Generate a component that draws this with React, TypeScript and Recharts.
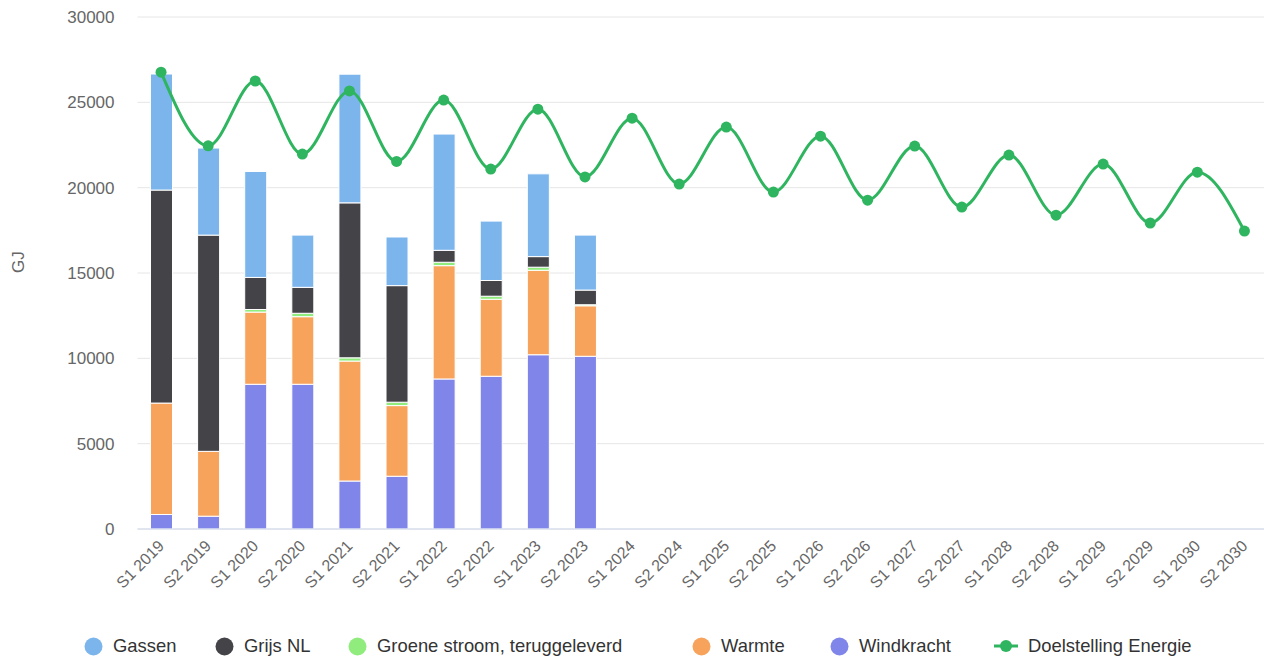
import React from 'react';
import { ComposedChart, Bar, Line, XAxis, YAxis, CartesianGrid } from 'recharts';

const categories = [
  'S1 2019', 'S2 2019', 'S1 2020', 'S2 2020', 'S1 2021', 'S2 2021',
  'S1 2022', 'S2 2022', 'S1 2023', 'S2 2023', 'S1 2024', 'S2 2024',
  'S1 2025', 'S2 2025', 'S1 2026', 'S2 2026', 'S1 2027', 'S2 2027',
  'S1 2028', 'S2 2028', 'S1 2029', 'S2 2029', 'S1 2030', 'S2 2030',
];

const windkracht = [850, 750, 8480, 8480, 2810, 3090, 8790, 8950, 10210, 10120];
const warmte = [6530, 3800, 4230, 3960, 7030, 4140, 6640, 4510, 4950, 2960];
const groeneStroom = [0, 0, 150, 200, 190, 200, 200, 180, 180, 60];
const grijsNL = [12480, 12670, 1880, 1520, 9080, 6830, 700, 920, 620, 860];
const gassen = [6800, 5100, 6210, 3060, 7540, 2850, 6810, 3480, 4850, 3220];
const doelstelling = [
  26770, 22450, 26250, 21970, 25670, 21540, 25130, 21090, 24600, 20630,
  24070, 20210, 23550, 19740, 23020, 19270, 22440, 18860, 21910, 18390,
  21380, 17930, 20910, 17460,
];
const yTicks = [0, 5000, 10000, 15000, 20000, 25000, 30000];

const colors = {
  gassen: '#7cb5ec',
  grijs: '#434348',
  groene: '#90ed7d',
  warmte: '#f7a35c',
  wind: '#8085e9',
  doel: '#2fb55f',
};

const data = categories.map((name, i) => ({
  name,
  windkracht: windkracht[i] ?? null,
  warmte: warmte[i] ?? null,
  groene: groeneStroom[i] ?? null,
  grijs: grijsNL[i] ?? null,
  gassen: gassen[i] ?? null,
  doel: doelstelling[i],
}));

const FONT = 'Arial, "Liberation Sans", Helvetica, sans-serif';

const XTick = (props: any) => {
  const { x, y, payload } = props;
  return (
    <g transform={`translate(${x + 4},${y + 10})`}>
      <text x={0} y={0} textAnchor="end" transform="rotate(-45)" fill="#666666" fontSize={16} fontFamily={FONT}>
        {payload.value}
      </text>
    </g>
  );
};

const legendItems = [
  { label: 'Gassen', color: colors.gassen, left: 84, type: 'circle' },
  { label: 'Grijs NL', color: colors.grijs, left: 215, type: 'circle' },
  { label: 'Groene stroom, teruggeleverd', color: colors.groene, left: 348, type: 'circle' },
  { label: 'Warmte', color: colors.warmte, left: 692, type: 'circle' },
  { label: 'Windkracht', color: colors.wind, left: 830, type: 'circle' },
  { label: 'Doelstelling Energie', color: colors.doel, left: 994, type: 'line' },
];

const LegendBox = () => (
  <div style={{ position: 'absolute', left: 0, top: 634, width: 1264, height: 24, fontFamily: FONT }}>
    {legendItems.map((it) => (
      <div key={it.label} style={{ position: 'absolute', left: it.left, top: 0, height: 24, display: 'flex', alignItems: 'center' }}>
        {it.type === 'circle' ? (
          <svg width={19} height={19} style={{ display: 'block' }}>
            <circle cx={9.5} cy={9.5} r={9} fill={it.color} />
          </svg>
        ) : (
          <svg width={26} height={14} style={{ display: 'block' }}>
            <line x1={0} y1={7} x2={24} y2={7} stroke={it.color} strokeWidth={3} />
            <circle cx={12} cy={7} r={6} fill={it.color} />
          </svg>
        )}
        <span style={{ marginLeft: it.type === 'circle' ? 10 : 8, fontSize: 18.4, color: '#333333', whiteSpace: 'nowrap' }}>{it.label}</span>
      </div>
    ))}
  </div>
);

export default function App() {
  return (
    <div style={{ position: 'absolute', left: 0, top: 0, width: 1264, height: 659, overflow: 'hidden', background: '#ffffff' }}>
      <ComposedChart
        width={1268}
        height={659}
        data={data}
        margin={{ top: 17, right: 0, bottom: 50, left: 0 }}
        barSize={22}
        style={{ fontFamily: FONT }}
      >
        <CartesianGrid vertical={false} stroke="#e6e6e6" />
        <XAxis
          dataKey="name"
          interval={0}
          tickLine={false}
          axisLine={{ stroke: '#ccd6eb' }}
          height={80}
          tick={<XTick />}
        />
        <YAxis
          width={137.5}
          domain={[0, 30000]}
          ticks={yTicks}
          tickSize={0}
          tickMargin={23}
          axisLine={false}
          tickLine={false}
          tick={{ fill: '#666666', fontSize: 17, fontFamily: FONT }}
          label={{ value: 'GJ', angle: -90, position: 'insideLeft', offset: 18, fill: '#666666', fontSize: 17, fontFamily: FONT }}
        />
        <Bar dataKey="windkracht" stackId="a" fill={colors.wind} stroke="#ffffff" strokeWidth={1} isAnimationActive={false} />
        <Bar dataKey="warmte" stackId="a" fill={colors.warmte} stroke="#ffffff" strokeWidth={1} isAnimationActive={false} />
        <Bar dataKey="groene" stackId="a" fill={colors.groene} stroke="#ffffff" strokeWidth={1} isAnimationActive={false} />
        <Bar dataKey="grijs" stackId="a" fill={colors.grijs} stroke="#ffffff" strokeWidth={1} isAnimationActive={false} />
        <Bar dataKey="gassen" stackId="a" fill={colors.gassen} stroke="#ffffff" strokeWidth={1} isAnimationActive={false} />
        <Line
          type="monotone"
          dataKey="doel"
          stroke={colors.doel}
          strokeWidth={3}
          dot={{ r: 5.5, fill: colors.doel, stroke: colors.doel, strokeWidth: 0 }}
          activeDot={false}
          isAnimationActive={false}
        />
      </ComposedChart>
      <LegendBox />
    </div>
  );
}
